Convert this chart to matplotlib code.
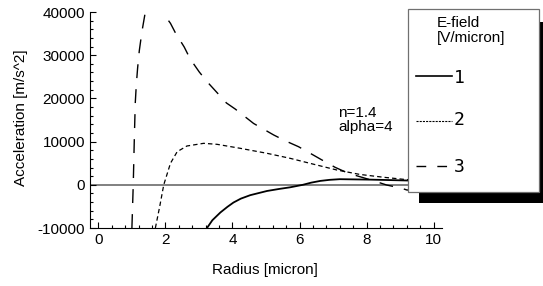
import matplotlib
matplotlib.use("Agg")
import matplotlib.pyplot as plt
from matplotlib.lines import Line2D
from matplotlib.patches import Rectangle
from matplotlib.ticker import MultipleLocator

# E-field = 1 V/micron (solid)
radius_1 = [3.24, 3.4, 3.64, 3.85, 4.03, 4.25, 4.53, 5.03, 5.4, 5.72, 6.1, 6.35, 6.62,
            6.9, 7.2, 8.1, 9.2, 10.0]
accel_1 = [-10000, -8200, -6400, -5100, -4100, -3200, -2400, -1430, -950, -580, 0, 500,
           900, 1150, 1300, 1200, 1000, 800]

# E-field = 2 V/micron (short dashes)
radius_2 = [1.70, 1.83, 1.95, 2.15, 2.35, 2.64, 3.14, 3.54, 4.23, 5.03, 5.72, 6.4,
            7.11, 7.8, 8.5, 9.1, 10.0]
accel_2 = [-10000, -5000, 0, 4980, 7660, 8980, 9600, 9370, 8450, 7290, 6130, 4800,
           3430, 2400, 1750, 1270, 800]

# E-field = 3 V/micron (long dashes)
radius_3 = [1.0, 1.04, 1.07, 1.10, 1.13, 1.17, 1.22, 1.30, 1.40, 1.55, 1.70, 1.90,
            2.15, 2.30, 2.56, 2.74, 3.01, 3.25, 3.55, 3.82, 4.08, 4.63, 5.23, 5.57,
            5.97, 6.32, 6.67, 7.06, 7.46, 7.86, 8.2, 8.6, 9.05, 9.2, 9.6, 10.0]
accel_3 = [-10000, 0, 10000, 18900, 23000, 27000, 31000, 35500, 40000, 43000, 43500,
           40070, 37380, 35140, 31900, 29120, 26110, 23800, 21250, 18940, 17550, 14200,
           11530, 10200, 8820, 7290, 5740, 4050, 2660, 1740, 950, -50, -810, -1200,
           -1300, -1100]

legend_labels = ["1", "2", "3"]

plt.rcParams["font.family"] = ["Liberation Sans", "DejaVu Sans"]
plt.rcParams["font.size"] = 11
plt.rcParams["lines.scale_dashes"] = False
plt.rcParams["axes.unicode_minus"] = False

W, H = 543, 286
fig = plt.figure(figsize=(W / 100, H / 100), dpi=100)
ax = fig.add_axes([90 / W, 1 - 228 / H, 352 / W, 216 / H])

ax.axhline(0, color="#808080", lw=1.4, zorder=1)
ax.plot(radius_1, accel_1, color="black", lw=1.3, zorder=3)
ax.plot(radius_2, accel_2, color="black", lw=0.9, dashes=(3.2, 2.2), zorder=3)
ax.plot(radius_3, accel_3, color="black", lw=1.0, dashes=(10, 8), zorder=3)

ax.set_xlim(-0.25, 10.25)
ax.set_ylim(-10000, 40000)
ax.xaxis.set_major_locator(MultipleLocator(2))
ax.xaxis.set_minor_locator(MultipleLocator(0.4))
ax.yaxis.set_major_locator(MultipleLocator(10000))
ax.yaxis.set_minor_locator(MultipleLocator(2000))
ax.tick_params(which="both", direction="in", width=0.8)
ax.tick_params(which="major", length=4, pad=3.5)
ax.tick_params(which="minor", length=2)
for side in ("top", "right"):
    ax.spines[side].set_visible(False)
for side in ("left", "bottom"):
    ax.spines[side].set_linewidth(0.8)

ax.set_xlabel("Radius [micron]")
ax.xaxis.set_label_coords(0.497, -0.16)
ax.set_ylabel("Acceleration [m/s^2]")
ax.yaxis.set_label_coords(-0.176, 0.509)

ax.text(7.15, 18200, "n=1.4\nalpha=4", ha="left", va="top", linespacing=0.95)

# legend box with a hard black shadow
fig.add_artist(Rectangle((419 / W, 1 - 203 / H), 124 / W, 181 / H,
                         transform=fig.transFigure, facecolor="black",
                         edgecolor="none", zorder=10))
fig.add_artist(Rectangle((408 / W, 1 - 192 / H), 131 / W, 183 / H,
                         transform=fig.transFigure, facecolor="white",
                         edgecolor="#707070", lw=0.9, zorder=11))
fig.text(437 / W, 1 - 16 / H, "E-field\n[V/micron]", ha="left", va="top",
         linespacing=1.05, zorder=12)

line_styles = [dict(lw=1.2), dict(lw=0.8, dashes=(1.5, 0.8)), dict(lw=1.0, dashes=(7, 8))]
line_ys = [76, 121, 166]
label_ys = [78, 120, 167]
for lab, style, ly, ty in zip(legend_labels, line_styles, line_ys, label_ys):
    fig.add_artist(Line2D([416 / W, 452 / W], [1 - ly / H, 1 - ly / H],
                          transform=fig.transFigure, color="black", zorder=12, **style))
    fig.text(454 / W, 1 - ty / H, lab, ha="left", va="center",
             family="DejaVu Sans Mono", fontsize=13, zorder=12)

fig.savefig("out.png", dpi=100)
